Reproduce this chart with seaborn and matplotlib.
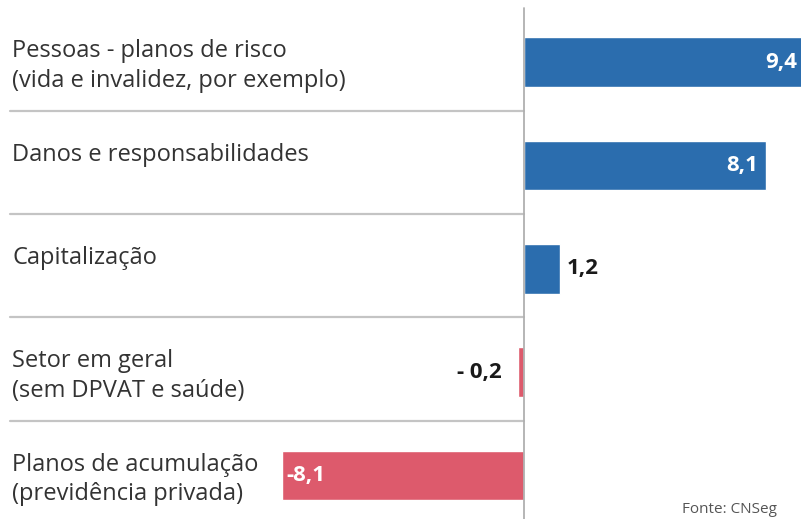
import pandas as pd
import matplotlib.pyplot as plt
import seaborn as sns

sns.set_style("white")
plt.rcParams["font.family"] = ["Open Sans", "DejaVu Sans"]

categorias = [
    "Pessoas - planos de risco\n(vida e invalidez, por exemplo)",
    "Danos e responsabilidades",
    "Capitalização",
    "Setor em geral\n(sem DPVAT e saúde)",
    "Planos de acumulação\n(previdência privada)",
]
valores = [9.4, 8.1, 1.2, -0.2, -8.1]
rotulos = ["9,4", "8,1", "1,2", "- 0,2", "-8,1"]

df = pd.DataFrame({"categoria": categorias, "valor": valores})
df["sinal"] = ["pos" if v >= 0 else "neg" for v in valores]

fig = plt.figure(figsize=(8.01, 5.19), dpi=100)
ax = fig.add_axes([0, 0, 1, 1])

sns.barplot(
    data=df, x="valor", y="categoria", hue="sinal", orient="h",
    palette={"pos": "#2b6dae", "neg": "#dd5a6c"}, width=0.48,
    dodge=False, legend=False, ax=ax, saturation=1,
)

ax.set_xlim(-17.52, 9.26)
ax.set_ylim(4.42, -0.60)
ax.axis("off")

# linhas separadoras e eixo zero
for i in range(len(categorias) - 1):
    ax.axhline(i + 0.47, xmin=10 / 801, xmax=524 / 801, color="#c4c4c4", lw=1.6)
ax.axvline(0, ymin=0, ymax=0.985, color="#b0b0b0", lw=1.3)

# nomes das categorias (alinhados ao topo das barras)
for i, cat in enumerate(categorias):
    ax.text(12 / 801, i - 0.22, cat, transform=ax.get_yaxis_transform(),
            ha="left", va="top", fontsize=17, color="#333333", linespacing=1.3)

# rótulos de valores
estilo = dict(fontsize=16, fontweight="bold", va="center",
              textcoords="offset pixels", annotation_clip=False)
ax.annotate(rotulos[0], (valores[0], 0), xytext=(-8, 0), ha="right", color="white", **estilo)
ax.annotate(rotulos[1], (valores[1], 1), xytext=(-8, 0), ha="right", color="white", **estilo)
ax.annotate(rotulos[2], (valores[2], 2), xytext=(7, 0), ha="left", color="#1a1a1a", **estilo)
ax.annotate(rotulos[3], (valores[3], 3), xytext=(-16, 0), ha="right", color="#1a1a1a", **estilo)
ax.annotate(rotulos[4], (valores[4], 4), xytext=(5, 0), ha="left", color="white", **estilo)

fig.text(682 / 801, 2 / 519, "Fonte: CNSeg", fontsize=11, color="#555555",
         ha="left", va="bottom")

fig.savefig("out.png", dpi=100)
